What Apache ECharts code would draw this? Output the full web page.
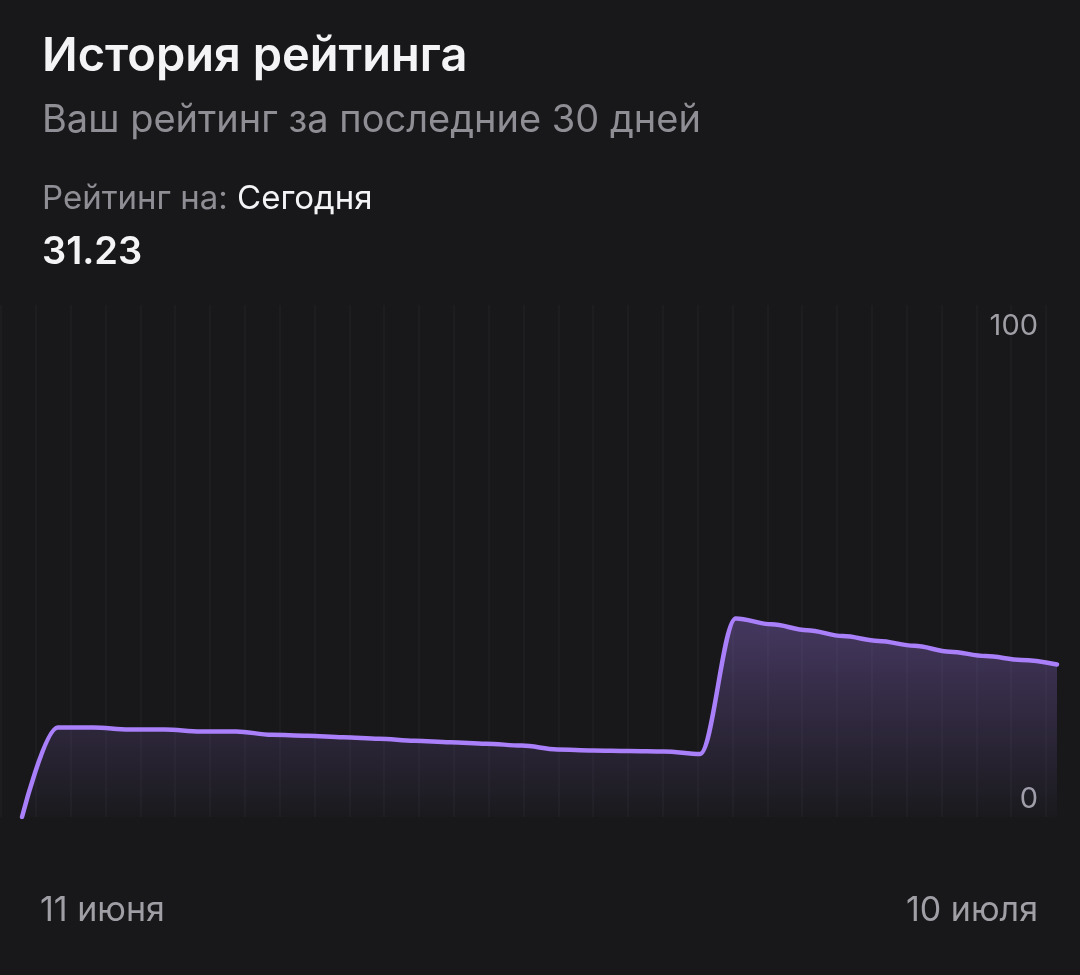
<!DOCTYPE html>
<html style="height: 100%">
<head>
    <meta charset="utf-8">
    <script src="https://cdn.jsdelivr.net/npm/echarts@6/dist/echarts.min.js"></script>
</head>
<body style="height: 100%; margin: 0; background: #18181a">
<div id="container" style="width: 1080px; height: 975px"></div>
<script type="text/javascript">
// dates for the last 30 days
const days = [
    '11 июня', '12 июня', '13 июня', '14 июня', '15 июня', '16 июня', '17 июня',
    '18 июня', '19 июня', '20 июня', '21 июня', '22 июня', '23 июня', '24 июня',
    '25 июня', '26 июня', '27 июня', '28 июня', '29 июня', '30 июня',
    '1 июля', '2 июля', '3 июля', '4 июля', '5 июля', '6 июля', '7 июля',
    '8 июля', '9 июля', '10 июля'
];
const rating = [
    0, 18.3, 18.3, 17.9, 17.9, 17.5, 17.5, 16.8, 16.6, 16.3,
    16.0, 15.6, 15.3, 15.0, 14.6, 13.8, 13.6, 13.5, 13.4, 12.9,
    40.6, 39.4, 38.2, 37.0, 36.0, 35.0, 33.8, 32.9, 32.1, 31.2
];
const yTicks = [0, 100];
const currentRating = '31.23';

const font = 'Inter, "Noto Sans", sans-serif';
const dom = document.getElementById('container');
const myChart = echarts.init(dom);

const option = {
    backgroundColor: '#18181a',
    title: [
        {
            text: 'История рейтинга',
            left: 37, top: 28,
            textStyle: {color: '#f4f4f7', fontSize: 47, fontWeight: 600, fontFamily: font}
        },
        {
            text: 'Ваш рейтинг за последние 30 дней',
            left: 37, top: 97,
            textStyle: {color: '#8f8e95', fontSize: 38, fontWeight: 400, fontFamily: font}
        },
        {
            text: '{g|Рейтинг на: }{w|Сегодня}',
            left: 37, top: 178,
            textStyle: {
                fontFamily: font,
                fontWeight: 'normal',
                rich: {
                    g: {color: '#8f8e95', fontSize: 33, fontWeight: 'normal', fontFamily: font},
                    w: {color: '#f4f4f7', fontSize: 33, fontWeight: 'normal', fontFamily: font}
                }
            }
        },
        {
            text: currentRating,
            left: 37, top: 229,
            textStyle: {color: '#f4f4f7', fontSize: 38, fontWeight: 600, fontFamily: font}
        }
    ],
    grid: [
        {left: 22, right: 23, top: 303.5, bottom: 158},
        {left: 1, right: 34, top: 305, bottom: 158}
    ],
    xAxis: [
        {
            type: 'category',
            gridIndex: 0,
            data: days,
            boundaryGap: false,
            axisLine: {show: false},
            axisTick: {show: false},
            splitLine: {show: false},
            axisLabel: {
                interval: function (i) { return i === 0 || i === days.length - 1; },
                alignMinLabel: 'left',
                alignMaxLabel: 'right',
                margin: 77,
                color: '#a09fa6',
                fontSize: 34,
                fontFamily: font,
                formatter: function (v, i) {
                    return i === 0 ? '{l|' + v + '}' : '{r|' + v + '}';
                },
                rich: {
                    l: {padding: [0, 0, 0, 18], color: '#a09fa6', fontSize: 34, fontFamily: font},
                    r: {padding: [0, 19, 0, 0], color: '#a09fa6', fontSize: 34, fontFamily: font}
                }
            }
        },
        {
            type: 'value',
            gridIndex: 1,
            min: 0, max: 30, interval: 1,
            axisLine: {show: false},
            axisTick: {show: false},
            axisLabel: {show: false},
            splitLine: {show: true, lineStyle: {color: '#1d1d20', width: 2}}
        }
    ],
    yAxis: [
        {
            type: 'value',
            gridIndex: 0,
            position: 'right',
            min: yTicks[0], max: 105, interval: yTicks[1] - yTicks[0],
            axisLine: {show: false},
            axisTick: {show: false},
            splitLine: {show: false},
            axisLabel: {
                inside: true,
                showMaxLabel: false,
                margin: 19,
                color: '#a09fa6',
                fontSize: 29,
                fontFamily: font,
                formatter: function (v) {
                    return v === yTicks[0] ? '{b|' + v + '}' : '{t|' + v + '}';
                },
                rich: {
                    b: {padding: [0, 0, 36, 0], color: '#a09fa6', fontSize: 29, fontFamily: font},
                    t: {padding: [0, 0, 4, 0], color: '#a09fa6', fontSize: 29, fontFamily: font}
                }
            }
        },
        {
            type: 'value',
            gridIndex: 1,
            min: 0, max: 1,
            show: false
        }
    ],
    series: [
        {
            name: 'Рейтинг',
            type: 'line',
            xAxisIndex: 0,
            yAxisIndex: 0,
            data: rating,
            smooth: 0.35,
            smoothMonotone: 'x',
            symbol: 'none',
            lineStyle: {color: '#a97ffa', width: 4.5, cap: 'round'},
            areaStyle: {
                color: new echarts.graphic.LinearGradient(0, 0, 0, 1, [
                    {offset: 0, color: 'rgba(167,124,247,0.45)'},
                    {offset: 1, color: 'rgba(167,124,247,0.02)'}
                ])
            },
            z: 3
        }
    ]
};

myChart.setOption(option, true);
</script>
</body>
</html>
